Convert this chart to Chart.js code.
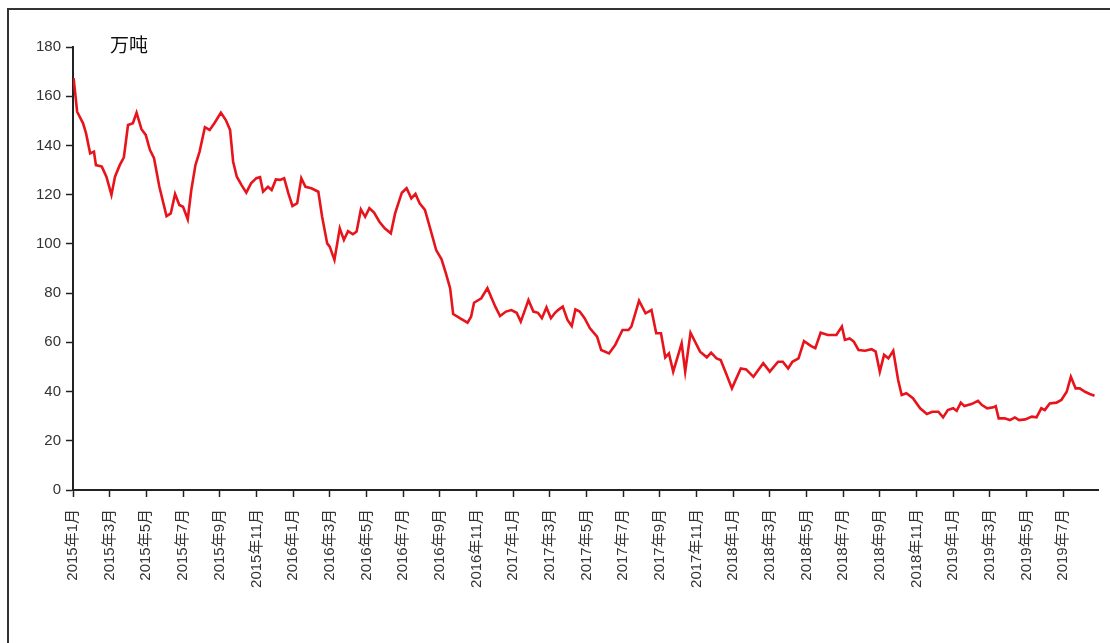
<!DOCTYPE html>
<html>
<head>
<meta charset="utf-8">
<script src="https://cdn.jsdelivr.net/npm/chart.js@4/dist/chart.umd.min.js"></script>
<style>
  html, body { margin: 0; padding: 0; background: #fff; overflow: hidden; }
  #wrap { position: relative; width: 1110px; height: 643px; }
  #frame { position: absolute; left: 7px; top: 8px; width: 1200px; height: 700px; border: 2px solid #333; }
  #unit { position: absolute; left: 110px; top: 30px; font: 19px "Noto Sans CJK SC", sans-serif; color: #111; }
  canvas { position: absolute; left: 0; top: 0; }
</style>
</head>
<body>
<div id="wrap">
  <div id="frame"></div>
  <canvas id="c" width="1110" height="643"></canvas>
  <div id="unit">万吨</div>
</div>
<script>
// weekly stock readings, 万吨
let dates = [
  '2015-01-02','2015-01-08','2015-01-18','2015-01-23','2015-01-30','2015-02-05','2015-02-08','2015-02-17','2015-02-24',
  '2015-03-04','2015-03-10','2015-03-18','2015-03-25','2015-04-01','2015-04-09','2015-04-15','2015-04-23','2015-04-30',
  '2015-05-07','2015-05-14','2015-05-23','2015-06-04','2015-06-11','2015-06-18','2015-06-25','2015-07-01','2015-07-09',
  '2015-07-15','2015-07-22','2015-07-29','2015-08-07','2015-08-15','2015-08-23','2015-09-03','2015-09-11','2015-09-18',
  '2015-09-23','2015-09-29','2015-10-07','2015-10-15','2015-10-23','2015-11-01','2015-11-07','2015-11-12','2015-11-20',
  '2015-11-26','2015-12-03','2015-12-10','2015-12-17','2015-12-24','2015-12-31','2016-01-08','2016-01-15','2016-01-22',
  '2016-02-01','2016-02-12','2016-02-18','2016-02-26','2016-03-01','2016-03-09','2016-03-18','2016-03-25','2016-04-01',
  '2016-04-09','2016-04-15','2016-04-22','2016-04-29','2016-05-06','2016-05-14','2016-05-23','2016-06-01','2016-06-11',
  '2016-06-18','2016-06-29','2016-07-07','2016-07-15','2016-07-22','2016-07-29','2016-08-07','2016-08-15','2016-08-26',
  '2016-09-04','2016-09-11','2016-09-18','2016-09-23','2016-10-04','2016-10-17','2016-10-23','2016-10-28','2016-11-09',
  '2016-11-19','2016-11-26','2016-12-02','2016-12-10','2016-12-20','2016-12-29','2017-01-07','2017-01-14','2017-01-21',
  '2017-01-27','2017-02-04','2017-02-11','2017-02-17','2017-02-24','2017-03-03','2017-03-10','2017-03-15','2017-03-23',
  '2017-03-31','2017-04-07','2017-04-13','2017-04-20','2017-04-28','2017-05-07','2017-05-19','2017-05-26','2017-06-08',
  '2017-06-18','2017-06-30','2017-07-10','2017-07-15','2017-07-28','2017-08-08','2017-08-18','2017-08-26','2017-09-03',
  '2017-09-10','2017-09-16','2017-09-23','2017-10-07','2017-10-13','2017-10-22','2017-11-07','2017-11-18','2017-11-25',
  '2017-12-04','2017-12-11','2017-12-20','2017-12-30','2018-01-14','2018-01-23','2018-02-04','2018-02-19','2018-03-01',
  '2018-03-15','2018-03-23','2018-04-01','2018-04-08','2018-04-18','2018-04-27','2018-05-09','2018-05-16','2018-05-25',
  '2018-06-06','2018-06-20','2018-06-29','2018-07-04','2018-07-12','2018-07-19','2018-07-27','2018-08-07','2018-08-18',
  '2018-08-25','2018-09-01','2018-09-08','2018-09-15','2018-09-23','2018-10-01','2018-10-07','2018-10-15','2018-10-26',
  '2018-11-07','2018-11-18','2018-11-27','2018-12-07','2018-12-15','2018-12-23','2019-01-01','2019-01-07','2019-01-14',
  '2019-01-20','2019-02-01','2019-02-11','2019-02-17','2019-02-25','2019-03-07','2019-03-11','2019-03-16','2019-03-26',
  '2019-04-04','2019-04-12','2019-04-19','2019-04-29','2019-05-10','2019-05-18','2019-05-26','2019-06-01','2019-06-09',
  '2019-06-20','2019-06-28','2019-07-07','2019-07-14','2019-07-22','2019-07-29','2019-08-07','2019-08-15','2019-08-23'
];
let stock = [
  167.3,153.7,149,145,136.8,137.5,132,131.4,127.3,
  119.9,127.3,132,135.2,148.3,149,153.3,146.6,144.3,
  138.2,134.8,123.2,111.3,112.4,120.3,115.8,115.1,110,
  121.9,132,137.5,147.4,146.3,149,153.3,150.3,146.3,
  133.4,127.3,123.9,120.8,124.6,126.7,127.1,121.2,123.2,
  121.9,126.2,126,126.7,120.6,115.4,116.5,126.7,123.2,
  122.6,121.2,111,100.2,98.9,93.5,106.3,101.6,105.2,
  103.9,105,114,111,114.5,112.7,109,106.3,104.3,
  112.4,120.8,122.6,118.5,120.3,116.5,113.8,107,97.5,
  93.7,88.1,82,71.5,69.8,68,70.4,76.1,77.9,
  82,77.9,74.5,70.7,72.5,73.1,72,68.4,73.1,
  77.2,72.5,72,69.8,74.2,69.8,72,73.1,74.5,
  69.1,66.6,73.4,72.5,69.8,65.7,62.3,56.9,55.5,
  58.9,65,65,66.4,76.9,71.8,73.1,63.7,63.7,
  53.9,55.5,48.1,59.6,48.1,63.9,56.2,53.9,55.8,
  53.5,52.8,47.4,41.3,49.4,49,46,51.5,48.1,
  52.1,52.1,49.4,52.1,53.5,60.5,58.5,57.6,63.9,
  63,63,66.4,61,61.6,60.3,56.9,56.6,57.2,
  56.2,48.1,54.9,53.5,56.6,44.7,38.6,39.3,37.3,
  33.2,30.9,31.8,31.8,29.5,32.5,33.2,32.2,35.5,
  34.1,34.9,36.2,34.5,33.2,33.6,34.1,29.1,29.1,
  28.4,29.5,28.4,28.7,29.8,29.5,33.2,32.5,35.2,
  35.5,36.6,39.9,46,41.3,41.3,39.9,39,38.3
];
let tickLabels = [
  '2015年1月','2015年3月','2015年5月','2015年7月','2015年9月','2015年11月',
  '2016年1月','2016年3月','2016年5月','2016年7月','2016年9月','2016年11月',
  '2017年1月','2017年3月','2017年5月','2017年7月','2017年9月','2017年11月',
  '2018年1月','2018年3月','2018年5月','2018年7月','2018年9月','2018年11月',
  '2019年1月','2019年3月','2019年5月','2019年7月'
];

// months elapsed since 2015-01-01
function monthPos(s) {
  let p = s.split('-').map(Number);
  let dim = new Date(p[0], p[1], 0).getDate();
  return (p[0] - 2015) * 12 + (p[1] - 1) + (p[2] - 1) / dim;
}
let points = dates.map((d, i) => ({ x: monthPos(d), y: stock[i] }));

var ctx = document.getElementById('c').getContext('2d');
var chart = new Chart(ctx, {
    type: 'line',
    data: {
        datasets: [{
            data: points,
            borderColor: '#e8141c',
            borderWidth: 2.6,
            pointRadius: 0,
            tension: 0,
            fill: false
        }]
    },
    options: {
        responsive: false,
        animation: false,
        layout: { padding: { left: 0, right: 12, top: 47, bottom: 0 } },
        plugins: {
            legend: { display: false },
            tooltip: { enabled: false }
        },
        scales: {
            x: {
                type: 'linear',
                min: 0,
                max: 55.9,
                afterFit: function (s) { s.height = 153; },
                afterBuildTicks: function (s) {
                    s.ticks = tickLabels.map((t, i) => ({ value: i * 2 }));
                },
                grid: { display: true, drawOnChartArea: false, drawTicks: true, tickLength: 7, tickColor: '#222', tickWidth: 1.5 },
                border: { display: true, color: '#222', width: 2 },
                ticks: {
                    autoSkip: false,
                    minRotation: 90,
                    maxRotation: 90,
                    padding: 12,
                    color: '#333',
                    font: { size: 15, family: "'Liberation Sans', 'Noto Sans CJK SC', sans-serif" },
                    callback: function (v) { return tickLabels[Math.round(v / 2)]; }
                }
            },
            y: {
                min: 0,
                max: 180,
                afterFit: function (s) { s.width = 73; },
                grid: { display: true, drawOnChartArea: false, drawTicks: true, tickLength: 7, tickColor: '#222', tickWidth: 1.5 },
                border: { display: true, color: '#222', width: 2 },
                ticks: {
                    stepSize: 20,
                    padding: 5,
                    color: '#333',
                    font: { size: 15, family: "'Liberation Sans', sans-serif" }
                }
            }
        }
    }
});
</script>
</body>
</html>
